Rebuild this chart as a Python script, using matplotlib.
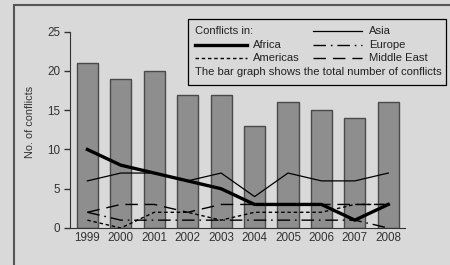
import matplotlib
matplotlib.use("Agg")
import matplotlib.pyplot as plt
from matplotlib.patches import Rectangle
from matplotlib.lines import Line2D

plt.rcParams['font.family'] = ['Liberation Sans', 'DejaVu Sans']

years = ["1999", "2000", "2001", "2002", "2003", "2004", "2005", "2006", "2007", "2008"]
total = [21, 19, 20, 17, 17, 13, 16, 15, 14, 16]
africa = [10, 8, 7, 6, 5, 3, 3, 3, 1, 3]
asia = [6, 7, 7, 6, 7, 4, 7, 6, 6, 7]
americas = [1, 0, 2, 2, 1, 2, 2, 2, 3, 3]
europe = [2, 1, 1, 1, 1, 1, 1, 1, 1, 0]
middle_east = [2, 3, 3, 2, 3, 3, 3, 3, 3, 3]
yticks = [0, 5, 10, 15, 20, 25]

BG = '#d9d9d9'
W, H = 450, 265
fig = plt.figure(figsize=(W / 100, H / 100), dpi=100, facecolor=BG)

def fx(px):
    return px / W

def fy(py):
    return 1 - py / H

# outer frame
fig.patches.append(Rectangle((fx(14), fy(300)), 1, fy(5) - fy(300), transform=fig.transFigure,
                             fill=False, edgecolor='#555555', linewidth=1.5, zorder=0))

ax = fig.add_axes([fx(70), fy(228), fx(405) - fx(70), fy(16) - fy(228)])
ax.set_facecolor('none')
x = list(range(len(years)))
ax.bar(x, total, width=0.63, color='#8e8e8e', edgecolor='#4a4a4a', linewidth=1.0, zorder=1)

ax.plot(x, asia, color='black', linewidth=0.9, zorder=3)
ax.plot(x, africa, color='black', linewidth=2.4, zorder=4)
ax.plot(x, americas, color='black', linewidth=1.0, linestyle=(0, (2.5, 2)), zorder=3)
ax.plot(x, europe, color='black', linewidth=1.0, linestyle=(0, (9, 3.5, 1.2, 3.5)), zorder=3)
ax.plot(x, middle_east, color='black', linewidth=1.0, linestyle=(0, (9, 5)), zorder=3)

ax.set_xlim(-0.52, 9.5)
ax.set_ylim(0, 27)
ax.set_yticks(yticks)
ax.set_xticks(x)
ax.set_xticklabels(years)
for s in ['top', 'right']:
    ax.spines[s].set_visible(False)
ax.spines['left'].set_bounds(0, 25)
ax.spines['left'].set_color('#333333')
ax.spines['bottom'].set_color('#333333')
ax.tick_params(axis='x', length=0, pad=3, labelsize=8.4, colors='#333333')
ax.tick_params(axis='y', length=4, width=1, pad=3, labelsize=8.4, colors='#333333')
ax.set_ylabel('No. of conflicts', fontsize=7.8, color='#333333', labelpad=9)

# legend (manual)
fig.patches.append(Rectangle((fx(188), fy(85)), fx(446) - fx(188), fy(19) - fy(85),
                             transform=fig.transFigure, facecolor=BG, edgecolor='black',
                             linewidth=0.9, zorder=5))
fs = 8.1
def ltext(px, py, s):
    fig.text(fx(px), fy(py), s, fontsize=fs, color='#222222', va='center', ha='left', zorder=6)

def lline(x0, x1, py, **kw):
    fig.lines.append(Line2D([fx(x0), fx(x1)], [fy(py), fy(py)], transform=fig.transFigure,
                            color='black', zorder=6, **kw))

ltext(195, 31, 'Conflicts in:')
lline(195, 247, 45, linewidth=2.4)
ltext(253, 45, 'Africa')
lline(195, 247, 58, linewidth=1.0, linestyle=(0, (2.5, 2)))
ltext(253, 58, 'Americas')
lline(313, 362, 31, linewidth=0.9)
ltext(369, 31, 'Asia')
lline(313, 362, 45, linewidth=1.0, linestyle=(0, (9, 3.5, 1.2, 3.5)))
ltext(369, 45, 'Europe')
lline(313, 362, 58, linewidth=1.0, linestyle=(0, (9, 5)))
ltext(369, 58, 'Middle East')
ltext(195, 72, 'The bar graph shows the total number of conflicts')

fig.savefig('out.png', dpi=100, facecolor=BG)
